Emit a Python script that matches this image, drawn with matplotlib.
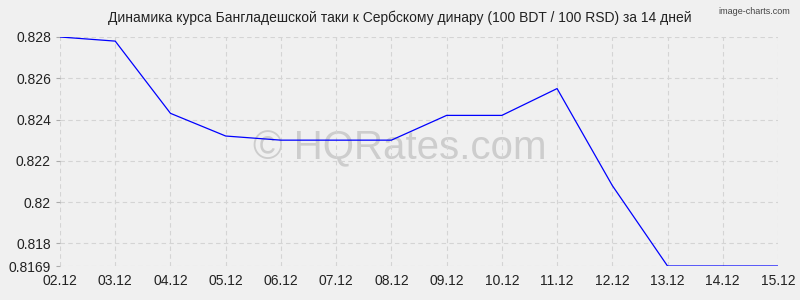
import matplotlib
matplotlib.use("Agg")
import matplotlib.pyplot as plt

dates = ["02.12", "03.12", "04.12", "05.12", "06.12", "07.12", "08.12",
         "09.12", "10.12", "11.12", "12.12", "13.12", "14.12", "15.12"]
rates = [0.8280, 0.8278, 0.8243, 0.8232, 0.8230, 0.8230, 0.8230,
         0.8242, 0.8242, 0.8255, 0.8208, 0.8169, 0.8169, 0.8169]
y_ticks = [0.8169, 0.818, 0.82, 0.822, 0.824, 0.826, 0.828]
y_labels = ["0.8169", "0.818", "0.82", "0.822", "0.824", "0.826", "0.828"]

plt.rcParams['font.family'] = ['Liberation Sans', 'DejaVu Sans']

fig = plt.figure(figsize=(8, 3), dpi=100, facecolor='#f0f0f0')
ax = fig.add_axes([0.075, 0.1133, 0.8975, 0.7634])
ax.set_facecolor('#f0f0f0')

x = list(range(len(dates)))
ax.plot(x, rates, color='#0000ff', linewidth=0.9, zorder=3)

ax.set_xlim(0, len(dates) - 1)
ax.set_ylim(0.8169, 0.828)
ax.set_xticks(x)
ax.set_xticklabels(dates)
ax.set_yticks(y_ticks)
ax.set_yticklabels(y_labels)
ax.tick_params(axis='both', labelsize=10, length=3, color='#aaaaaa', colors='#222222')
ax.tick_params(axis='x', length=0, pad=6)

ax.grid(True, color='#d4d4d4', linestyle=(0, (4, 3)), linewidth=0.8)
for side in ax.spines:
    ax.spines[side].set_visible(False)

fig.text(0.5, 0.94, "Динамика курса Бангладешской таки к Сербскому динару (100 BDT / 100 RSD) за 14 дней",
         fontsize=10, color='#222222', ha='center', va='center')

# watermark sits under the line
ax.text(0.5, 0.505, "© HQRates.com", fontsize=29, color='#cdcdcd',
        ha='center', va='center', zorder=1, transform=fig.transFigure)
fig.text(0.988, 0.978, "image-charts.com", fontsize=6.5, color='#444444',
         ha='right', va='top')

fig.savefig("out.png", dpi=100, facecolor='#f0f0f0')
